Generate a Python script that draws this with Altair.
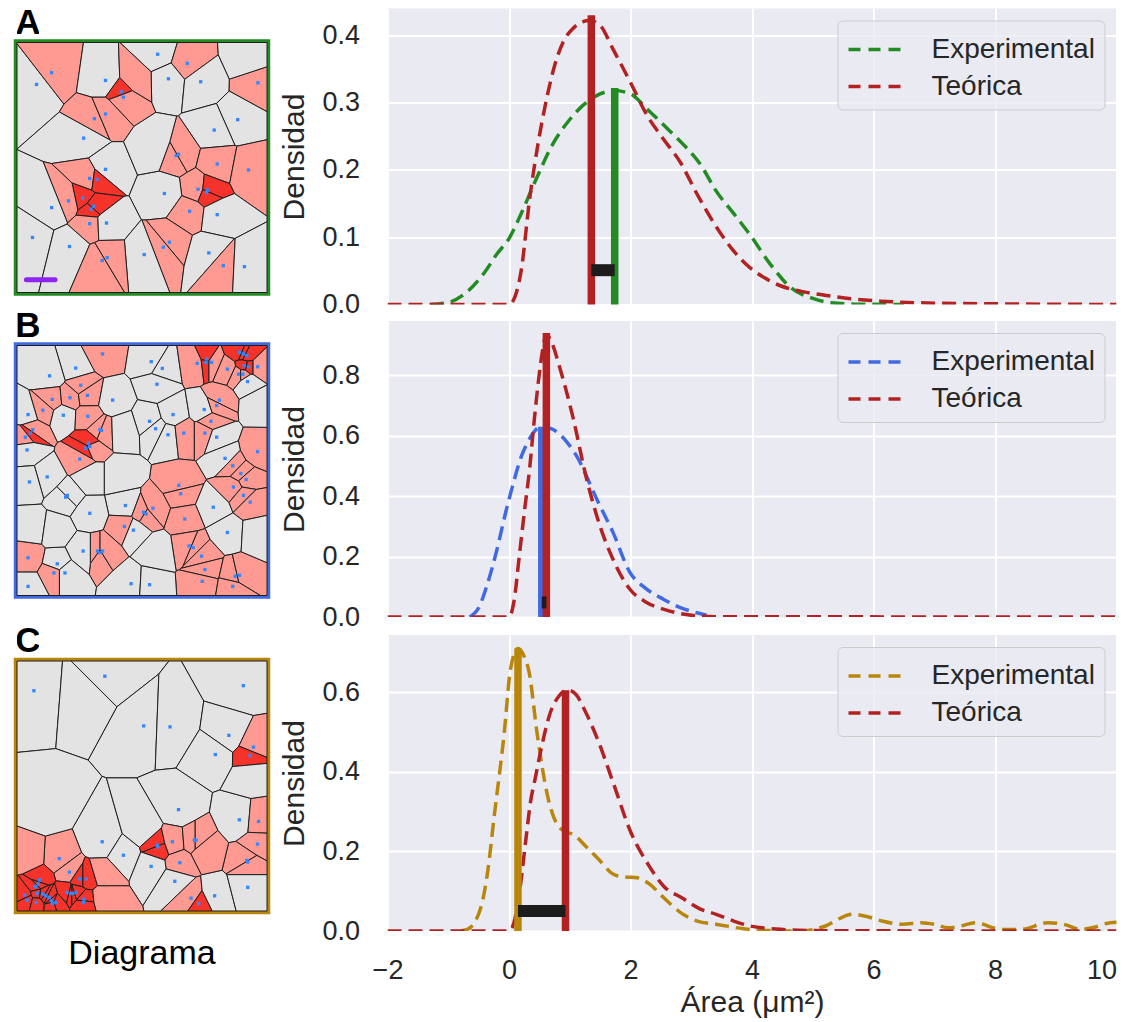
import altair as alt
import pandas as pd

FONT = "Liberation Sans"
TXT = "#262626"
RED = "#B22222"
GREEN = "#228B22"
BLUE_L = "#4169E1"
GOLD = "#B8860B"
BG = "#EAEAF2"
GREY_C = "#E3E3E3"
PINK_C = "#FF9A92"
RED_C = "#F5332B"
DOT_C = "#3388FF"

# ---------------- density curves ----------------
A_exp_x = [-1.3, -1.0, -0.7, -0.4, -0.2, 0.0, 0.2, 0.45, 0.7, 1.0, 1.27, 1.5, 1.73, 2.0, 2.28, 2.6, 2.9, 3.16, 3.4, 3.7, 3.98, 4.3, 4.64, 5.0, 5.3, 5.7, 6.5]
A_exp_y = [0.0, 0.003, 0.018, 0.048, 0.075, 0.098, 0.135, 0.187, 0.235, 0.275, 0.300, 0.313, 0.318, 0.313, 0.290, 0.262, 0.235, 0.207, 0.170, 0.135, 0.102, 0.060, 0.025, 0.009, 0.0025, 0.0005, 0.0]
A_theo_x = [-2.0, 0.0, 0.1, 0.2, 0.34, 0.48, 0.62, 0.75, 0.89, 1.05, 1.2, 1.33, 1.5, 1.71, 2.0, 2.28, 2.55, 2.83, 3.09, 3.38, 3.65, 3.93, 4.2, 4.48, 4.9, 5.3, 5.7, 6.12, 7.0, 8.0, 10.0]
A_theo_y = [0.0, 0.0, 0.012, 0.05, 0.157, 0.24, 0.306, 0.355, 0.39, 0.41, 0.42, 0.422, 0.415, 0.38, 0.33, 0.28, 0.245, 0.21, 0.165, 0.12, 0.085, 0.0575, 0.04, 0.0275, 0.018, 0.0125, 0.008, 0.005, 0.002, 0.001, 0.0]

B_exp_x = [-0.65, -0.5, -0.37, -0.21, -0.05, 0.093, 0.2, 0.286, 0.4, 0.533, 0.65, 0.78, 0.95, 1.165, 1.3, 1.44, 1.71, 1.99, 2.25, 2.54, 2.8, 3.09, 3.25]
B_exp_y = [0.0, 0.03, 0.10, 0.214, 0.35, 0.459, 0.53, 0.57, 0.61, 0.631, 0.627, 0.614, 0.58, 0.514, 0.455, 0.392, 0.281, 0.148, 0.095, 0.059, 0.033, 0.014, 0.006]
B_theo_x = [-2.0, 0.0, 0.08, 0.176, 0.26, 0.34, 0.41, 0.478, 0.55, 0.615, 0.7, 0.835, 1.055, 1.275, 1.495, 1.71, 1.99, 2.25, 2.54, 2.8, 3.09, 3.5, 10.0]
B_theo_y = [0.0, 0.0, 0.05, 0.214, 0.36, 0.492, 0.64, 0.77, 0.88, 0.935, 0.91, 0.826, 0.659, 0.459, 0.303, 0.192, 0.092, 0.05, 0.026, 0.012, 0.004, 0.001, 0.0]

C_exp_x = [-0.8, -0.685, -0.466, -0.35, -0.247, -0.082, 0.027, 0.148, 0.25, 0.329, 0.466, 0.63, 0.795, 0.93, 1.068, 1.25, 1.452, 1.726, 1.9, 2.11, 2.32, 2.548, 2.865, 3.1, 3.41, 3.96, 4.4, 4.77, 5.21, 5.45, 5.65, 5.9, 6.14, 6.47, 6.79, 7.0, 7.23, 7.45, 7.67, 8.1, 8.43, 8.87, 9.15, 9.41, 9.65, 9.9, 10.05]
C_exp_y = [0.0, 0.004, 0.058, 0.15, 0.284, 0.493, 0.66, 0.71, 0.69, 0.652, 0.493, 0.343, 0.267, 0.25, 0.242, 0.215, 0.184, 0.142, 0.136, 0.134, 0.117, 0.0835, 0.042, 0.025, 0.017, 0.004, 0.001, 0.0, 0.0126, 0.032, 0.042, 0.036, 0.025, 0.017, 0.021, 0.017, 0.008, 0.013, 0.021, 0.004, 0.004, 0.021, 0.016, 0.004, 0.01, 0.021, 0.022]
C_theo_x = [-2.0, 0.0, 0.08, 0.19, 0.27, 0.356, 0.44, 0.52, 0.685, 0.82, 0.96, 1.1, 1.23, 1.45, 1.726, 2.0, 2.3, 2.55, 2.85, 3.15, 3.41, 3.7, 3.96, 4.4, 4.77, 5.5, 10.0]
C_theo_y = [0.0, 0.0, 0.02, 0.117, 0.22, 0.326, 0.39, 0.451, 0.551, 0.59, 0.606, 0.595, 0.56, 0.485, 0.368, 0.25, 0.165, 0.112, 0.083, 0.055, 0.042, 0.025, 0.013, 0.005, 0.002, 0.0005, 0.0]

# modes: [experimental x, experimental height, theoretical x, theoretical height, bar level]
A_modes = [1.74, 0.322, 1.355, 0.43, 0.051]
B_modes = [0.54, 0.63, 0.615, 0.94, 0.048]
C_modes = [0.148, 0.71, 0.93, 0.605, 0.05]

X_TICKS = [-2, 0, 2, 4, 6, 8, 10]
A_yticks = [0.0, 0.1, 0.2, 0.3, 0.4]
B_yticks = [0.0, 0.2, 0.4, 0.6, 0.8]
C_yticks = [0.0, 0.2, 0.4, 0.6]
A_ymax, B_ymax, C_ymax = 0.44, 0.98, 0.744

PANEL_LABELS = ["A", "B", "C"]

# ---------------- Voronoi seeds (image units) ----------------
A_ext = [42, 785, 125, 870]
A_sx = [100, 145, 305, 352, 358, 460, 548, 492, 588, 758, 272, 305, 240, 698, 628, 515, 522, 637, 730, 305, 258, 280, 237, 195, 145, 270, 262, 580, 608, 605, 480, 555, 637, 258, 308, 88, 198, 495, 477, 420, 612, 655, 718, 295, 310]
A_sy = [250, 215, 238, 272, 288, 160, 187, 233, 242, 245, 352, 338, 410, 355, 386, 462, 458, 487, 505, 503, 530, 533, 588, 597, 617, 613, 622, 562, 565, 572, 575, 628, 638, 665, 663, 706, 733, 720, 735, 757, 752, 790, 793, 775, 766]
A_sc = list("gpgrpgpggp" + "ppgggppppg" + "rrrpgrrprr" + "gpgpgggppg" + "gpgrp")
A_ex = [735, 455, 390]
A_ey = [175, 440, 235]
A_ec = list("ggp")
A_bar_x = [70, 155]
A_bar_y = [832, 832]

B_ext = [45, 790, 80, 822]
B_sx = [300, 445, 478, 220, 142, 462, 582, 610, 625, 608, 708, 720, 730, 722, 735, 762, 705, 718, 672, 732,
        235, 150, 203, 255, 330, 122, 78, 183, 256, 292, 297, 92, 85, 70, 258, 250, 262, 232, 75, 440,
        458, 510, 495, 542, 603, 648, 640, 623, 605, 640, 762, 665, 688, 712, 728, 690, 720, 740, 135, 82,
        195, 190, 527, 533, 630, 368, 450, 422, 430, 262, 545, 365, 392, 672, 558, 570, 285, 292, 300, 242,
        78, 165, 155, 188, 595, 605, 597, 695, 708, 688, 385, 440, 78]
B_sy = [105, 128, 148, 147, 170, 195, 133, 120, 130, 130, 100, 105, 110, 140, 143, 143, 165, 165, 150, 187,
        198, 240, 235, 228, 242, 272, 285, 287, 290, 330, 332, 330, 340, 352, 370, 385, 380, 417, 390, 305,
        327, 285, 345, 340, 270, 242, 258, 305, 340, 352, 395, 415, 437, 460, 478, 500, 525, 545, 470, 485,
        525, 530, 495, 520, 560, 555, 563, 575, 580, 578, 595, 617, 628, 635, 675, 680, 690, 695, 690, 690,
        710, 728, 755, 755, 705, 745, 780, 765, 762, 795, 787, 790, 795]
B_sc = list("pgggggprpr" + "rrrrrppppg" + "ppppgpggpp" + "prrprrrpgg" + "gggpgrrppg" +
            "pgppppppgg" + "ggppggpppg" + "ppggpppppg" + "pgpgpppppp" + "ggg")
B_ex = [360, 90, 350, 160, 260, 760, 460, 765]
B_ey = [330, 620, 470, 630, 470, 640, 690, 250]
B_ec = list("gggggggg")

C_ext = [45, 785, 60, 800]
C_sx = [95, 305, 715, 420, 498, 672, 632, 745, 735, 523, 703, 760, 297, 360, 170, 462, 460, 505, 570, 575,
        757, 725, 728, 527, 442, 512, 200, 230, 250, 112, 108, 100, 68, 75, 105, 102, 122, 130, 140, 148,
        160, 150, 193, 205, 210, 220, 243, 242, 560, 583, 630, 728]
C_sy = [148, 105, 133, 252, 255, 280, 337, 315, 340, 500, 530, 535, 595, 635, 645, 610, 605, 595, 590, 590,
        602, 650, 655, 657, 668, 712, 685, 705, 705, 708, 720, 728, 753, 768, 748, 775, 750, 755, 760, 770,
        775, 778, 745, 748, 748, 745, 765, 775, 762, 778, 755, 730]
C_sc = list("gggggggprg" + "gpggprrppp" + "ppppggprrr" + "rrrrrrrrrr" + "rrrrrrrr" + "prgg")
C_ex = [250, 740, 130, 80, 300, 600, 420, 300]
C_ey = [160, 395, 500, 640, 760, 620, 560, 690]
C_ec = list("gggpppgp")


# ---------------- helpers ----------------
def clip(poly, dx, dy, mx, my):
    out = []
    n = len(poly)
    for k in range(n):
        P = poly[k]
        Q = poly[(k + 1) % n]
        fp = (P[0] - mx) * dx + (P[1] - my) * dy
        fq = (Q[0] - mx) * dx + (Q[1] - my) * dy
        if fp <= 0:
            out.append(P)
        if (fp < 0 < fq) or (fq < 0 < fp):
            t = fp / (fp - fq)
            out.append((P[0] + t * (Q[0] - P[0]), P[1] + t * (Q[1] - P[1])))
    return out


def area(poly):
    s = 0.0
    n = len(poly)
    for k in range(n):
        x1, y1 = poly[k]
        x2, y2 = poly[(k + 1) % n]
        s += x1 * y2 - x2 * y1
    return abs(s) / 2.0


def norm(xs, ys, ext):
    x0, x1, y0, y1 = ext
    return ([(x - x0) / (x1 - x0) for x in xs], [(y - y0) / (y1 - y0) for y in ys])


def voronoi_features(us, vs, cls):
    feats = []
    pts = list(zip(us, vs))
    mean_area = 1.0 / len(pts)
    for i, (px, py) in enumerate(pts):
        poly = [(0.0, 0.0), (1.0, 0.0), (1.0, 1.0), (0.0, 1.0)]
        for j, (qx, qy) in enumerate(pts):
            if i == j:
                continue
            dx, dy = qx - px, qy - py
            if dx * dx + dy * dy < 1e-12:
                continue
            poly = clip(poly, dx, dy, (px + qx) / 2, (py + qy) / 2)
            if len(poly) < 3:
                break
        if len(poly) >= 3:
            c = cls[i]
            if c == "r" and area(poly) > 0.45 * mean_area:
                c = "p"
            ring = [[float(x), float(y)] for x, y in poly]
            ring.append(ring[0])
            feats.append({"type": "Feature",
                          "geometry": {"type": "Polygon", "coordinates": [ring]},
                          "properties": {"cls": c}})
    return feats


def label_view(text):
    # small strip holding the panel letter (text sits at the strip's centre, clipped to the strip)
    return alt.Chart(pd.DataFrame({"t": [text]})).mark_text(
        fontSize=35, fontWeight="bold", font=FONT, color="black", baseline="middle", align="center",
        clip=True
    ).encode(text="t:N").properties(width=22, height=28)


def left_panel(sx, sy, sc, ex, ey, ec, ext, frame, bar=None):
    n = min(len(sx), len(sy), len(sc))
    sx, sy, sc = sx[:n], sy[:n], sc[:n]
    us, vs = norm(sx + ex, sy + ey, ext)
    feats = voronoi_features(us, vs, sc + ec)
    cells = alt.Chart(alt.Data(values=feats)).mark_geoshape(
        stroke="#1e1e1e", strokeWidth=1
    ).encode(
        color=alt.Color("properties.cls:N",
                        scale=alt.Scale(domain=["g", "p", "r"], range=[GREY_C, PINK_C, RED_C]),
                        legend=None)
    ).project(type="identity")
    du, dv = norm(sx, sy, ext)
    dots = alt.Chart(pd.DataFrame({"u": du, "v": dv})).mark_square(
        size=11, color=DOT_C, opacity=1
    ).encode(longitude="u:Q", latitude="v:Q").project(type="identity")
    layers = [cells, dots]
    if bar is not None:
        bu, bv = norm(bar[0], bar[1], ext)
        bdf = pd.DataFrame({"u1": [bu[0]], "u2": [bu[1]], "v1": [bv[0]], "v2": [bv[1]]})
        layers.append(alt.Chart(bdf).mark_rule(color="#8E24F0", strokeWidth=5, strokeCap="round").encode(
            longitude="u1:Q", latitude="v1:Q", longitude2="u2:Q", latitude2="v2:Q").project(type="identity"))
    return alt.layer(*layers).properties(
        width=250, height=250,
        view=alt.ViewBackground(stroke=frame, strokeWidth=6.5),
    )


def density_panel(ex, ey, tx, ty, ecolor, modes, ymax, yticks, bottom):
    df = pd.DataFrame({"x": ex + tx, "y": ey + ty,
                       "serie": ["Experimental"] * len(ex) + ["Teórica"] * len(tx)})
    xscale = alt.Scale(domain=[-2, 10], nice=False, zero=False)
    yscale = alt.Scale(domain=[0, ymax], nice=False, zero=False)
    if bottom:
        xaxis = alt.Axis(values=X_TICKS, format="d", title="Área (μm²)", labelFontSize=27,
                         titleFontSize=30, labelPadding=26, titlePadding=4, grid=True, labelFlush=False,
                         labelAlign={"condition": {"test": "datum.value == 10", "value": "right"},
                                     "value": "center"})
    else:
        xaxis = alt.Axis(values=X_TICKS, format="d", labels=False, title=None, grid=True)
    yaxis = alt.Axis(values=yticks, format=".1f", title="Densidad", labelFontSize=27, titleFontSize=30,
                     labelPadding=28, titlePadding=12, grid=True)
    curves = alt.Chart(df).mark_line(strokeDash=[14, 7], strokeWidth=3.5, clip=True,
                                     interpolate="monotone").encode(
        x=alt.X("x:Q", scale=xscale, axis=xaxis),
        y=alt.Y("y:Q", scale=yscale, axis=yaxis),
        color=alt.Color("serie:N",
                        scale=alt.Scale(domain=["Experimental", "Teórica"], range=[ecolor, RED]),
                        legend=alt.Legend(orient="top-right", offset=12, title=None,
                                          labelFont=FONT, labelFontSize=28, labelColor=TXT,
                                          labelLimit=500, symbolType="M-1,0H2.1", symbolSize=1296,
                                          symbolStrokeWidth=3.5, symbolDash=[12, 8], labelOffset=45,
                                          padding=9, rowPadding=3,
                                          fillColor="rgba(234,234,242,0.8)", strokeColor="#cccccc",
                                          cornerRadius=5)),
    )
    mdf_e = pd.DataFrame({"x": [modes[0]], "y0": [0.0], "top": [modes[1]]})
    mdf_t = pd.DataFrame({"x": [modes[2]], "y0": [0.0], "top": [modes[3]]})
    rule_e = alt.Chart(mdf_e).mark_rule(color=ecolor, strokeWidth=7.5).encode(
        x=alt.X("x:Q", scale=xscale, axis=xaxis), y=alt.Y("y0:Q", scale=yscale, axis=yaxis), y2="top:Q")
    rule_t = alt.Chart(mdf_t).mark_rule(color=RED, strokeWidth=7.5).encode(
        x=alt.X("x:Q", scale=xscale, axis=xaxis), y=alt.Y("y0:Q", scale=yscale, axis=yaxis), y2="top:Q")
    bdf = pd.DataFrame({"x1": [modes[0]], "x2": [modes[2]], "yb": [modes[4]]})
    bar = alt.Chart(bdf).mark_rule(color="#1c1c1c", strokeWidth=12).encode(
        x=alt.X("x1:Q", scale=xscale, axis=xaxis), x2="x2:Q", y=alt.Y("yb:Q", scale=yscale, axis=yaxis))
    return alt.layer(curves, rule_e, rule_t, bar).properties(
        width=729, height=296, view=alt.ViewBackground(fill=BG, strokeWidth=0))


pA = left_panel(A_sx, A_sy, A_sc, A_ex, A_ey, A_ec, A_ext, GREEN, bar=(A_bar_x, A_bar_y))
pB = left_panel(B_sx, B_sy, B_sc, B_ex, B_ey, B_ec, B_ext, BLUE_L)
pC = left_panel(C_sx, C_sy, C_sc, C_ex, C_ey, C_ec, C_ext, GOLD)

grpA = alt.vconcat(label_view(PANEL_LABELS[0]), pA, spacing=0)
grpB = alt.vconcat(label_view(PANEL_LABELS[1]), pB, spacing=0).resolve_scale(color="independent")
grpC = alt.vconcat(label_view(PANEL_LABELS[2]), pC, spacing=0).resolve_scale(color="independent")
bc = alt.vconcat(grpB, grpC, spacing=25.5).resolve_scale(color="independent")

left = alt.vconcat(grpA, bc, spacing=13).properties(
    title=alt.TitleParams("Diagrama", orient="bottom", anchor="middle", fontSize=34,
                          fontWeight="normal", font=FONT, color="black", offset=21, baseline="top")
).resolve_scale(color="independent")

dA = density_panel(A_exp_x, A_exp_y, A_theo_x, A_theo_y, GREEN, A_modes, A_ymax, A_yticks, False)
dB = density_panel(B_exp_x, B_exp_y, B_theo_x, B_theo_y, BLUE_L, B_modes, B_ymax, B_yticks, False)
dC = density_panel(C_exp_x, C_exp_y, C_theo_x, C_theo_y, GOLD, C_modes, C_ymax, C_yticks, True)

bc_right = alt.vconcat(dB, dC, spacing=5).resolve_scale(color="independent").resolve_legend(color="independent")
right = alt.vconcat(dA, bc_right, spacing=3.5).resolve_scale(color="independent").resolve_legend(color="independent")

chart = alt.hconcat(left, right, spacing=6.5).resolve_scale(
    color="independent"
).resolve_legend(color="independent").properties(
    padding={"left": 11, "top": 8.5, "right": 0, "bottom": 0},
    background="white",
).configure_view(strokeWidth=0).configure_axis(
    labelFont=FONT, titleFont=FONT, labelColor=TXT, titleColor=TXT, domain=False, ticks=False,
    tickSize=0, gridColor="white", gridWidth=2, titleFontWeight="normal",
)

chart.save("out.html", embed_options={"renderer": "svg", "actions": False})
